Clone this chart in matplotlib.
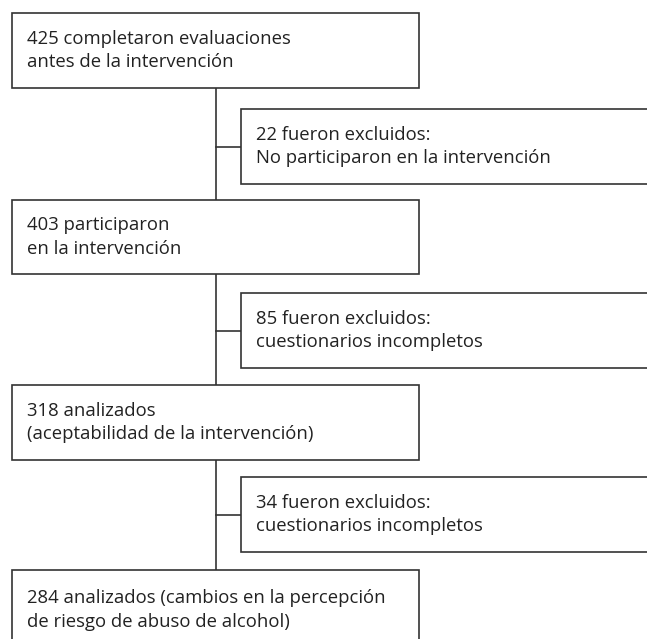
import matplotlib.pyplot as plt
import matplotlib.patches as patches

# textos del diagrama de flujo
main_labels = [
    "425 completaron evaluaciones\nantes de la intervención",
    "403 participaron\nen la intervención",
    "318 analizados\n(aceptabilidad de la intervención)",
    "284 analizados (cambios en la percepción\nde riesgo de abuso de alcohol)",
]
excluded_labels = [
    "22 fueron excluidos:\nNo participaron en la intervención",
    "85 fueron excluidos:\ncuestionarios incompletos",
    "34 fueron excluidos:\ncuestionarios incompletos",
]

# layout (pixeles, eje y invertido)
W, H = 647, 639
MAIN_X0, MAIN_X1 = 12, 419
SIDE_X0, SIDE_X1 = 241, 660
LINE_X = 216
main_boxes = [(13, 88), (200, 274), (385, 460), (570, 650)]
side_boxes = [(109, 184), (293, 368), (477, 552)]
EDGE = "#333333"
LW = 1.2

fig = plt.figure(figsize=(W / 100, H / 100), dpi=100)
ax = fig.add_axes([0, 0, 1, 1])
ax.set_xlim(0, W)
ax.set_ylim(H, 0)
ax.axis('off')

def box(x0, x1, y0, y1, label):
    r = patches.Rectangle((x0, y0), x1 - x0, y1 - y0, facecolor="white",
                          edgecolor=EDGE, linewidth=LW, zorder=2)
    ax.add_patch(r)
    ax.text(x0 + 15, (y0 + y1) / 2 if y1 < H else y0 + 40, label,
            ha="left", va="center", fontsize=13.3, family="Open Sans",
            color="#222222", linespacing=1.42, zorder=3)

# líneas conectoras
for i in range(len(side_boxes)):
    ax.plot([LINE_X, LINE_X], [main_boxes[i][1], main_boxes[i + 1][0]],
            color=EDGE, linewidth=LW, zorder=1)
    ym = sum(side_boxes[i]) / 2
    ax.plot([LINE_X, SIDE_X0], [ym, ym], color=EDGE, linewidth=LW, zorder=1)

for (y0, y1), lab in zip(main_boxes, main_labels):
    box(MAIN_X0, MAIN_X1, y0, y1, lab)
for (y0, y1), lab in zip(side_boxes, excluded_labels):
    box(SIDE_X0, SIDE_X1, y0, y1, lab)

fig.savefig("out.png", dpi=100)
